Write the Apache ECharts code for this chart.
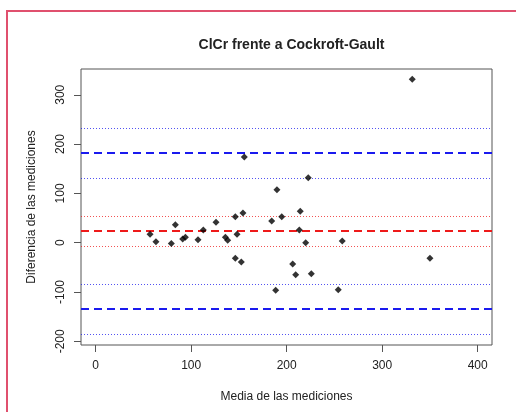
<!DOCTYPE html>
<html>
<head>
<meta charset="utf-8">
<script src="https://cdn.jsdelivr.net/npm/echarts@6/dist/echarts.min.js"></script>
<style>
  html, body { margin: 0; padding: 0; background: #ffffff; }
  #chart { width: 516px; height: 412px; }
</style>
</head>
<body>
<div id="chart"></div>
<script>
// Bland-Altman: ClCr vs Cockroft-Gault
const medias = [56.9, 63.1, 79.2, 83.4, 91.1, 93.9, 107.1, 112.7, 126.0, 135.8,
                138.2, 146.2, 148.0, 146.2, 152.5, 154.2, 155.6, 184.3, 189.8, 188.5,
                194.8, 206.3, 209.4, 214.2, 213.2, 219.9, 222.6, 225.8, 254.0, 258.2,
                331.5, 350.0];
const diferencias = [17, 2, -1.4, 36.5, 7.5, 11, 6, 25.8, 41.3, 11,
                     4.8, 52.7, 17, -31.6, -39.1, 60.2, 173.8, 44, 107.5, -96.6,
                     52.7, -43.2, -64.9, 63.7, 25.8, 0, 131.8, -62.9, -95.3, 3.4,
                     331.4, -31.6];

// mean difference and limits of agreement, each with its confidence band
const sesgo = [24.3, -6.7, 52.7];
const limiteSup = [183.4, 131.2, 232.0];
const limiteInf = [-133.9, -185.9, -85.2];

const xTicks = [0, 100, 200, 300, 400];
const yTicks = [-200, -100, 0, 100, 200, 300];

const puntos = medias.map((m, i) => [m, diferencias[i]]);

const AZUL = '#1a1aee';
const ROJO = '#ee1a1a';
const TEXTO = '#222222';
const EJE = '#555555';
const FUENTE = 'Liberation Sans, Arial, sans-serif';

function linea(valor, color, dashed) {
  return {
    yAxis: valor,
    lineStyle: dashed
      ? { color: color, width: 2, type: [8, 5] }
      : { color: color, width: 1, type: [1, 2], opacity: 0.75 }
  };
}

const lineas = [
  linea(sesgo[0], ROJO, true), linea(sesgo[1], ROJO, false), linea(sesgo[2], ROJO, false),
  linea(limiteSup[0], AZUL, true), linea(limiteSup[1], AZUL, false), linea(limiteSup[2], AZUL, false),
  linea(limiteInf[0], AZUL, true), linea(limiteInf[1], AZUL, false), linea(limiteInf[2], AZUL, false)
];

const chart = echarts.init(document.getElementById('chart'), null, { renderer: 'canvas' });

chart.setOption({
  animation: false,
  backgroundColor: '#ffffff',
  textStyle: { fontFamily: FUENTE },
  title: {
    text: 'ClCr frente a Cockroft-Gault',
    left: 286.5,
    textAlign: 'center',
    top: 33,
    textStyle: { fontSize: 14, fontWeight: 'bold', color: TEXTO, fontFamily: FUENTE }
  },
  graphic: [
    { type: 'rect', shape: { x: 6, y: 10, width: 2, height: 402 }, style: { fill: '#e0506e' } },
    { type: 'rect', shape: { x: 6, y: 10, width: 510, height: 2 }, style: { fill: '#e0506e' } }
  ],
  grid: {
    left: 81, top: 69, width: 411, height: 276,
    show: true, borderColor: EJE, borderWidth: 1, backgroundColor: 'transparent',
    containLabel: false
  },
  xAxis: {
    type: 'value',
    min: -15.4, max: 415,
    name: 'Media de las mediciones',
    nameLocation: 'middle',
    nameGap: 46,
    nameTextStyle: { fontSize: 12, color: TEXTO, fontFamily: FUENTE },
    axisLine: { show: false, onZero: false },
    splitLine: { show: false },
    axisTick: { show: true, inside: false, length: 7, customValues: xTicks, lineStyle: { color: EJE } },
    axisLabel: { customValues: xTicks, margin: 15, fontSize: 12, color: TEXTO, fontFamily: FUENTE }
  },
  yAxis: {
    type: 'value',
    min: -207.5, max: 352.3,
    name: 'Diferencia de las mediciones',
    nameLocation: 'middle',
    nameGap: 43,
    nameRotate: 90,
    nameTextStyle: { fontSize: 12, color: TEXTO, fontFamily: FUENTE },
    axisLine: { show: false, onZero: false },
    splitLine: { show: false },
    axisTick: { show: true, inside: false, length: 7, customValues: yTicks, lineStyle: { color: EJE } },
    axisLabel: { customValues: yTicks, rotate: 90, margin: 14, fontSize: 12, color: TEXTO, fontFamily: FUENTE }
  },
  series: [{
    type: 'scatter',
    data: puntos,
    symbol: 'diamond',
    symbolSize: 7,
    itemStyle: { color: '#000000' },
    markLine: {
      silent: true,
      symbol: 'none',
      label: { show: false },
      data: lineas
    },
    z: 5
  }]
});
</script>
</body>
</html>
